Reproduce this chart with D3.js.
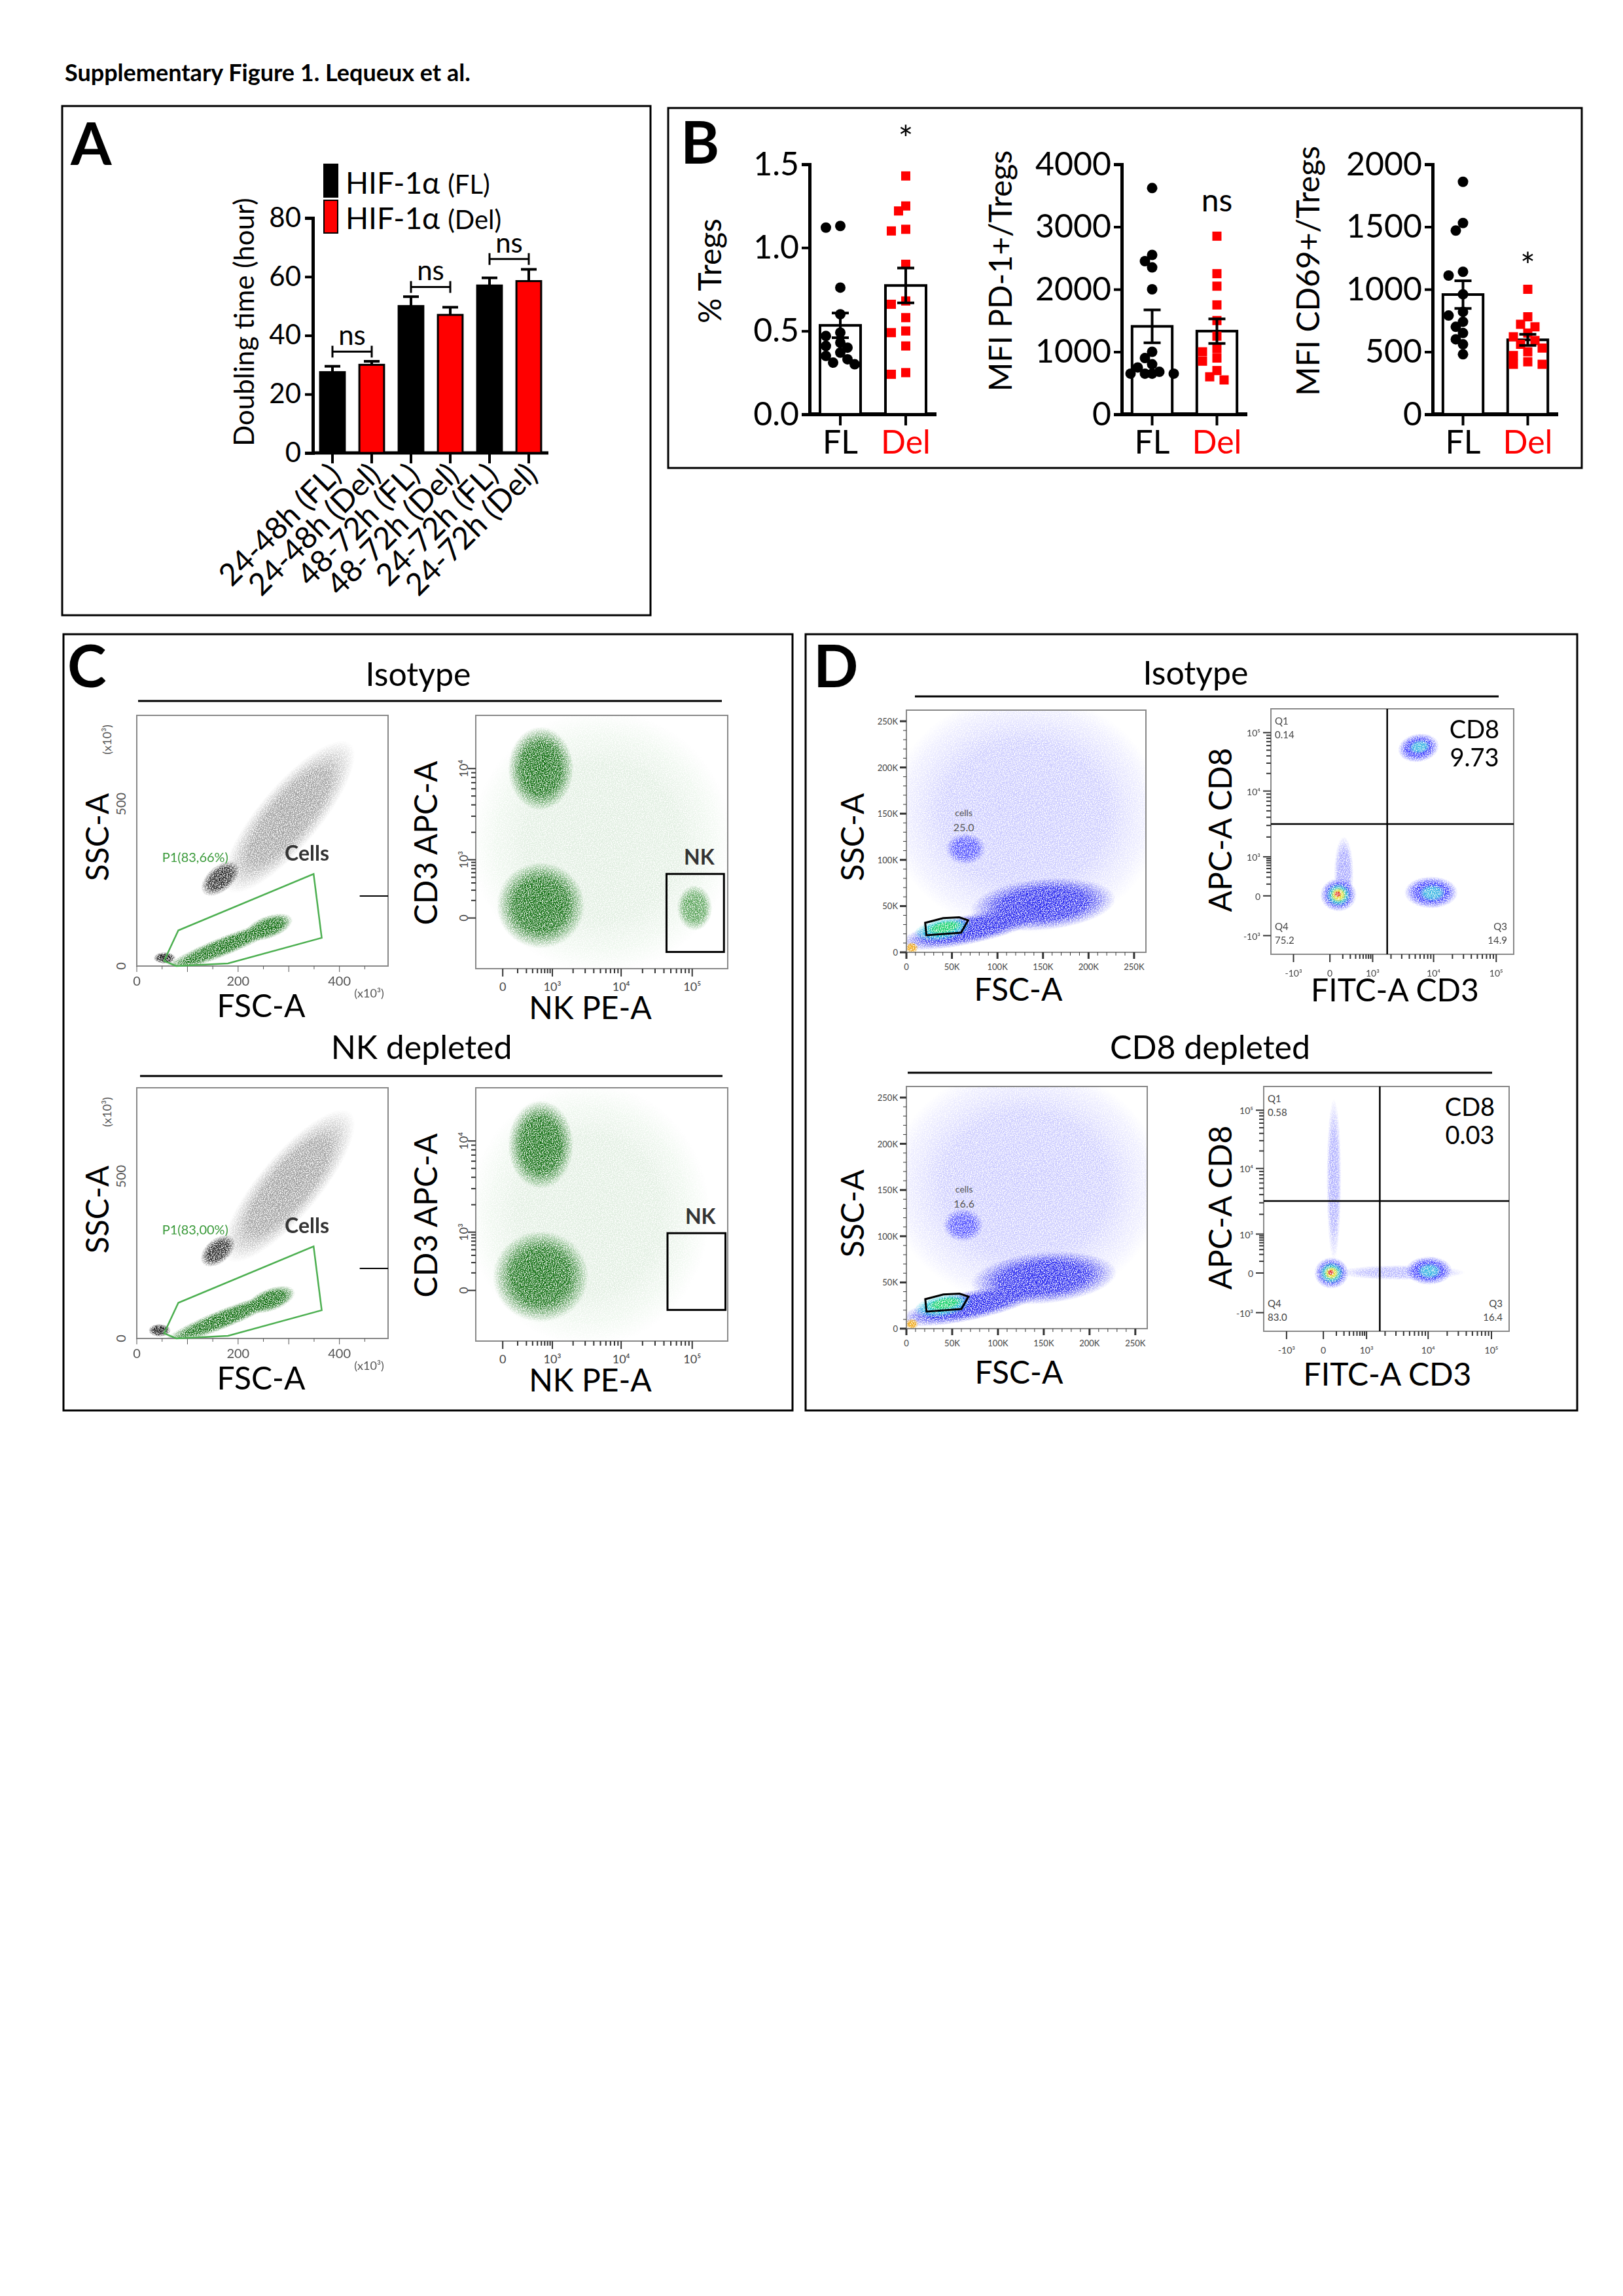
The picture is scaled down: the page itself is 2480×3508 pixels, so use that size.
<!DOCTYPE html>
<html>
<head>
<meta charset="utf-8">
<script src="https://cdn.jsdelivr.net/npm/d3@7"></script>
<style>
  body { margin: 0; background: #fff; }
  text { font-family: Lato, "Open Sans", sans-serif; }
</style>
</head>
<body>
<div id="chart"></div>
<script>
// ---------- data ----------
// Panel A: doubling time
var aCategories = ["24-48h (FL)", "24-48h (Del)", "48-72h (FL)", "48-72h (Del)", "24-72h (FL)", "24-72h (Del)"];
var aMeans = [27.5, 30, 50, 47, 57, 58.5];
var aErrors = [2, 1.2, 3.2, 2.6, 2.6, 4];
var aBrackets = [{ from: 0, to: 1, y: 34.5 }, { from: 2, to: 3, y: 56.5 }, { from: 4, to: 5, y: 66 }];

// Panel B: Treg scatter values
var tregsFL = [1.13, 1.12, 0.76, 0.60, 0.49, 0.47, 0.43, 0.41, 0.40, 0.37, 0.35, 0.33, 0.31, 0.30];
var tregsDel = [1.43, 1.25, 1.22, 1.11, 1.10, 0.90, 0.68, 0.66, 0.58, 0.50, 0.49, 0.41, 0.25, 0.24];
var pd1FL = [3620, 2550, 2450, 2350, 2000, 1000, 900, 800, 750, 680, 650, 650, 650, 650];
var pd1Del = [2850, 2250, 2050, 1750, 1500, 1250, 1050, 1000, 900, 850, 700, 600, 550];
var cd69FL = [1860, 1530, 1470, 1140, 1110, 960, 820, 790, 740, 700, 650, 600, 560, 480];
var cd69Del = [1000, 780, 720, 700, 650, 620, 590, 560, 530, 500, 470, 420, 400, 400];

// Flow plot populations (x, y, rx, ry in plot units; angle in degrees)
var cScatterPops = [
  { x: 300, y: 460, rx: 190, ry: 95, a: -50, c: "#000", o: 0.4 },
  { x: 165, y: 270, rx: 45, ry: 40, a: -40, c: "#000", o: 0.9 },
  { x: 55, y: 25, rx: 22, ry: 18, a: 0, c: "#000", o: 1 },
  { x: 170, y: 60, rx: 130, ry: 30, a: -22, c: "#006400", o: 1 },
  { x: 260, y: 120, rx: 50, ry: 35, a: -20, c: "#006400", o: 1 }
];
var cScatterPopsDep = [
  { x: 300, y: 470, rx: 190, ry: 95, a: -50, c: "#000", o: 0.4 },
  { x: 160, y: 270, rx: 40, ry: 38, a: -40, c: "#000", o: 0.9 },
  { x: 45, y: 25, rx: 22, ry: 20, a: 0, c: "#000", o: 1 },
  { x: 170, y: 60, rx: 130, ry: 30, a: -22, c: "#006400", o: 1 },
  { x: 265, y: 120, rx: 50, ry: 35, a: -20, c: "#006400", o: 1 }
];
var cNkPops = [
  { x: 500, y: 500, rx: 520, ry: 520, a: 0, c: "#2e8b2e", o: 0.15 },
  { x: 258, y: 790, rx: 130, ry: 165, a: 0, c: "#006400", o: 1 },
  { x: 258, y: 250, rx: 175, ry: 170, a: 0, c: "#006400", o: 1 },
  { x: 868, y: 240, rx: 70, ry: 90, a: 0, c: "#2e8b2e", o: 0.85 }
];
var cNkPopsDep = [
  { x: 450, y: 500, rx: 480, ry: 520, a: 0, c: "#2e8b2e", o: 0.15 },
  { x: 258, y: 775, rx: 130, ry: 175, a: 0, c: "#006400", o: 1 },
  { x: 258, y: 255, rx: 190, ry: 180, a: 0, c: "#006400", o: 1 }
];
var dScatterPops = [
  { x: 130000, y: 150000, rx: 150000, ry: 130000, a: 0, c: "#2a2aff", o: 0.25 },
  { x: 65000, y: 112000, rx: 22000, ry: 17000, a: 0, c: "#2a2aff", o: 0.8 },
  { x: 150000, y: 52000, rx: 80000, ry: 28000, a: -5, c: "#1a1aee", o: 1 },
  { x: 70000, y: 25000, rx: 80000, ry: 16000, a: -12, c: "#1a1aee", o: 1 },
  { x: 40000, y: 25000, rx: 32000, ry: 12000, a: -10, c: "#18c8d8", o: 1 },
  { x: 42000, y: 27000, rx: 20000, ry: 7000, a: -10, c: "#10d060", o: 1 },
  { x: 6000, y: 5000, rx: 7000, ry: 6000, a: 0, c: "#f0a000", o: 1 }
];
var dScatterPopsDep = [
  { x: 130000, y: 155000, rx: 150000, ry: 130000, a: 0, c: "#2a2aff", o: 0.25 },
  { x: 62000, y: 112000, rx: 22000, ry: 18000, a: 0, c: "#2a2aff", o: 0.8 },
  { x: 150000, y: 55000, rx: 80000, ry: 28000, a: -5, c: "#1a1aee", o: 1 },
  { x: 70000, y: 25000, rx: 80000, ry: 16000, a: -12, c: "#1a1aee", o: 1 },
  { x: 40000, y: 25000, rx: 32000, ry: 12000, a: -10, c: "#18c8d8", o: 1 },
  { x: 42000, y: 27000, rx: 20000, ry: 7000, a: -10, c: "#10d060", o: 1 },
  { x: 6000, y: 5000, rx: 7000, ry: 6000, a: 0, c: "#f0a000", o: 1 }
];
var dCd8Pops = [
  { x: 300, y: 330, rx: 40, ry: 150, a: 0, c: "#2a2aff", o: 0.45 },
  { x: 278, y: 242, rx: 75, ry: 68, a: 0, c: "#2a2aff", o: 1 },
  { x: 278, y: 242, rx: 52, ry: 48, a: 0, c: "#22d0c0", o: 1 },
  { x: 278, y: 242, rx: 32, ry: 30, a: 0, c: "#f0e020", o: 1 },
  { x: 275, y: 245, rx: 15, ry: 13, a: 0, c: "#e02020", o: 1 },
  { x: 660, y: 252, rx: 110, ry: 65, a: 0, c: "#2a2aff", o: 1 },
  { x: 665, y: 250, rx: 55, ry: 35, a: 0, c: "#30b8e0", o: 1 },
  { x: 608, y: 841, rx: 85, ry: 58, a: -10, c: "#2a2aff", o: 1 },
  { x: 612, y: 845, rx: 45, ry: 28, a: -10, c: "#30b8e0", o: 1 }
];
var dCd8PopsDep = [
  { x: 286, y: 620, rx: 30, ry: 330, a: 0, c: "#2a2aff", o: 0.4 },
  { x: 276, y: 238, rx: 70, ry: 64, a: 0, c: "#2a2aff", o: 1 },
  { x: 276, y: 238, rx: 50, ry: 45, a: 0, c: "#22d0c0", o: 1 },
  { x: 276, y: 238, rx: 30, ry: 27, a: 0, c: "#f0e020", o: 1 },
  { x: 273, y: 240, rx: 14, ry: 12, a: 0, c: "#e02020", o: 1 },
  { x: 560, y: 240, rx: 260, ry: 30, a: 0, c: "#2a2aff", o: 0.35 },
  { x: 673, y: 248, rx: 95, ry: 58, a: 0, c: "#2a2aff", o: 1 },
  { x: 675, y: 246, rx: 50, ry: 32, a: 0, c: "#30b8e0", o: 1 }
];
// Tick positions on logicle axes (display units 0-1000) and their labels
var cNkXTicks = [[107, "0"], [304, "10³"], [577, "10⁴"], [859, "10⁵"]];
var cNkYTicks = [[200, "0"], [430, "10³"], [790, "10⁴"]];
var dXTicks = [[93, "-10³"], [243, "0"], [419, "10³"], [670, "10⁴"], [928, "10⁵"]];
var dYTicks = [[76, "-10³"], [238, "0"], [397, "10³"], [665, "10⁴"], [903, "10⁵"]];
var dLinTicks = [0, 50000, 100000, 150000, 200000, 250000];
var dLinLabels = ["0", "50K", "100K", "150K", "200K", "250K"];

// ---------- svg ----------
var W = 2480, H = 3508;
var svg = d3.select("#chart").append("svg").attr("width", W).attr("height", H);
svg.append("rect").attr("width", W).attr("height", H).attr("fill", "#fff");

var defs = svg.append("defs");
// speckle texture so clouds read as dots
var f = defs.append("filter").attr("id", "speckle").attr("x", "-20%").attr("y", "-20%").attr("width", "140%").attr("height", "140%");
f.append("feTurbulence").attr("type", "fractalNoise").attr("baseFrequency", 0.7).attr("numOctaves", 1).attr("seed", 3).attr("result", "n");
f.append("feColorMatrix").attr("in", "n").attr("type", "matrix")
  .attr("values", "0 0 0 0 0  0 0 0 0 0  0 0 0 0 0  4 0 0 0 -1.3").attr("result", "m");
f.append("feComposite").attr("in", "SourceGraphic").attr("in2", "m").attr("operator", "in");

var gradCount = 0;
function gradFor(color, op) {
  var id = "g" + (gradCount++);
  var g = defs.append("radialGradient").attr("id", id);
  g.append("stop").attr("offset", "0%").attr("stop-color", color).attr("stop-opacity", op);
  g.append("stop").attr("offset", "60%").attr("stop-color", color).attr("stop-opacity", op * 0.9);
  g.append("stop").attr("offset", "100%").attr("stop-color", color).attr("stop-opacity", 0);
  return "url(#" + id + ")";
}

// title
svg.append("text").attr("x", 99).attr("y", 124).style("font-size", "36px").style("font-weight", "bold")
  .text("Supplementary Figure 1. Lequeux et al.");

// panel borders
[[95, 162, 899, 778], [1021, 165, 1396, 550], [97, 969, 1114, 1186], [1231, 969, 1179, 1186]].forEach(function(b) {
  svg.append("rect").attr("x", b[0]).attr("y", b[1]).attr("width", b[2]).attr("height", b[3])
    .attr("fill", "none").attr("stroke", "#000").attr("stroke-width", 3);
});
function panelLetter(t, x, y) {
  svg.append("text").attr("x", x).attr("y", y).style("font-size", "90px").style("font-weight", "bold").text(t);
}
panelLetter("A", 108, 252);
panelLetter("B", 1040, 250);
panelLetter("C", 103, 1050);
panelLetter("D", 1243, 1050);

// ---------- Panel A ----------
var A0 = 692, A80 = 333;
var ax = d3.scaleBand().domain(aCategories).range([478, 838]).paddingInner(0.37).paddingOuter(0.185);
var ay = d3.scaleLinear().domain([0, 80]).range([A0, A80]);
var gA = svg.append("g");
gA.append("g").attr("transform", "translate(478,0)")
  .call(d3.axisLeft(ay).tickValues([0, 20, 40, 60, 80]).tickSize(12).tickPadding(6))
  .call(function(g) {
    g.select(".domain").attr("stroke-width", 5);
    g.selectAll("line").attr("stroke-width", 4);
    g.selectAll("text").style("font-size", "42px").style("font-family", "Lato");
  });
gA.append("line").attr("x1", 476).attr("x2", 838).attr("y1", A0).attr("y2", A0).attr("stroke", "#000").attr("stroke-width", 5);
aCategories.forEach(function(c, i) {
  var cx = ax(c) + ax.bandwidth() / 2;
  var col = i % 2 ? "#ff0000" : "#000";
  gA.append("line").attr("x1", cx).attr("x2", cx).attr("y1", ay(aMeans[i] + aErrors[i])).attr("y2", ay(aMeans[i]))
    .attr("stroke", "#000").attr("stroke-width", 4);
  gA.append("line").attr("x1", cx - 12).attr("x2", cx + 12).attr("y1", ay(aMeans[i] + aErrors[i])).attr("y2", ay(aMeans[i] + aErrors[i]))
    .attr("stroke", "#000").attr("stroke-width", 4);
  gA.append("rect").attr("x", ax(c)).attr("y", ay(aMeans[i])).attr("width", ax.bandwidth()).attr("height", ay(0) - ay(aMeans[i]))
    .attr("fill", col).attr("stroke", "#000").attr("stroke-width", 3);
  gA.append("line").attr("x1", cx).attr("x2", cx).attr("y1", A0).attr("y2", A0 + 16).attr("stroke", "#000").attr("stroke-width", 4);
  gA.append("text").attr("transform", "translate(" + (cx + 16) + "," + (A0 + 36) + ") rotate(-45)")
    .attr("text-anchor", "end").style("font-size", "47px").text(c);
});
aBrackets.forEach(function(b) {
  var x1 = ax(aCategories[b.from]) + ax.bandwidth() / 2, x2 = ax(aCategories[b.to]) + ax.bandwidth() / 2, y = ay(b.y);
  gA.append("path").attr("d", "M" + x1 + "," + (y + 9) + "V" + (y - 9) + "M" + x1 + "," + y + "H" + x2 + "M" + x2 + "," + (y + 9) + "V" + (y - 9))
    .attr("fill", "none").attr("stroke", "#000").attr("stroke-width", 3);
  gA.append("text").attr("x", (x1 + x2) / 2).attr("y", y - 10).attr("text-anchor", "middle").style("font-size", "42px").text("ns");
});
gA.append("text").attr("transform", "translate(388,492) rotate(-90)").attr("text-anchor", "middle").style("font-size", "42px")
  .text("Doubling time (hour)");
[["#000", "HIF-1α", "(FL)", 251, 296], ["#ff0000", "HIF-1α", "(Del)", 306, 350]].forEach(function(l) {
  gA.append("rect").attr("x", 495).attr("y", l[3]).attr("width", 21).attr("height", 50).attr("fill", l[0]).attr("stroke", "#000").attr("stroke-width", 2);
  var t = gA.append("text").attr("x", 528).attr("y", l[4]).style("font-size", "46px");
  t.append("tspan").text(l[1] + " ");
  t.append("tspan").style("font-size", "40px").text(l[2]);
});

// ---------- Panel B ----------
function dotPlot(opt) {
  var y = d3.scaleLinear().domain([0, opt.max]).range([633, 251]);
  var x = d3.scaleBand().domain(["FL", "Del"]).range([opt.x0, opt.x1]).paddingInner(0.38).paddingOuter(0.16);
  var g = svg.append("g");
  g.append("g").attr("transform", "translate(" + opt.x0 + ",0)")
    .call(d3.axisLeft(y).tickValues(opt.ticks).tickFormat(opt.fmt).tickSize(12).tickPadding(4))
    .call(function(a) {
      a.select(".domain").attr("stroke-width", 5);
      a.selectAll("line").attr("stroke-width", 4);
      a.selectAll("text").style("font-size", "50px").style("font-family", "Lato");
    });
  g.append("line").attr("x1", opt.x0 - 2).attr("x2", opt.x1).attr("y1", 633).attr("y2", 633).attr("stroke", "#000").attr("stroke-width", 6);
  [["FL", opt.fl, "#000"], ["Del", opt.del, "#ff0000"]].forEach(function(s) {
    var cx = x(s[0]) + x.bandwidth() / 2;
    var m = d3.mean(s[1]), se = d3.deviation(s[1]) / Math.sqrt(s[1].length);
    g.append("rect").attr("x", x(s[0])).attr("y", y(m)).attr("width", x.bandwidth()).attr("height", 633 - y(m))
      .attr("fill", "#fff").attr("stroke", "#000").attr("stroke-width", 4);
    // simple swarm: shift sideways when overlapping
    var placed = [];
    s[1].forEach(function(v) {
      var py = y(v), offs = [0, -11, 11, -22, 22, -33, 33], px = cx;
      for (var k = 0; k < offs.length; k++) {
        var ok = placed.every(function(p) { return Math.hypot(p[0] - (cx + offs[k]), p[1] - py) > 13; });
        if (ok) { px = cx + offs[k]; break; }
      }
      placed.push([px, py]);
      if (s[0] === "FL") g.append("circle").attr("cx", px).attr("cy", py).attr("r", 8).attr("fill", "#000");
      else g.append("rect").attr("x", px - 7).attr("y", py - 7).attr("width", 14).attr("height", 14).attr("fill", "#ff0000");
    });
    g.append("path").attr("d", "M" + cx + "," + y(m - se) + "V" + y(m + se) + "M" + (cx - 13) + "," + y(m + se) + "H" + (cx + 13) +
      "M" + (cx - 13) + "," + y(m - se) + "H" + (cx + 13)).attr("stroke", "#000").attr("stroke-width", 4);
    g.append("line").attr("x1", cx).attr("x2", cx).attr("y1", 633).attr("y2", 650).attr("stroke", "#000").attr("stroke-width", 4);
    g.append("text").attr("x", cx).attr("y", 693).attr("text-anchor", "middle").style("font-size", "50px").attr("fill", s[2]).text(s[0]);
    if (s[0] === "Del") g.append("text").attr("x", cx).attr("y", y(opt.sigY)).attr("text-anchor", "middle")
      .style("font-size", opt.sig === "*" ? "54px" : "48px").text(opt.sig);
  });
  g.append("text").attr("transform", "translate(" + opt.labX + ",414) rotate(-90)").attr("text-anchor", "middle")
    .style("font-size", "48px").text(opt.label);
}
dotPlot({ x0: 1237, x1: 1431, max: 1.5, ticks: [0, 0.5, 1, 1.5], fmt: d3.format(".1f"), fl: tregsFL, del: tregsDel, sig: "*", sigY: 1.58, label: "% Tregs", labX: 1102 });
dotPlot({ x0: 1714, x1: 1906, max: 4000, ticks: [0, 1000, 2000, 3000, 4000], fmt: d3.format("d"), fl: pd1FL, del: pd1Del, sig: "ns", sigY: 3250, label: "MFI PD-1+/Tregs", labX: 1546 });
dotPlot({ x0: 2189, x1: 2381, max: 2000, ticks: [0, 500, 1000, 1500, 2000], fmt: d3.format("d"), fl: cd69FL, del: cd69Del, sig: "*", sigY: 1090, label: "MFI CD69+/Tregs", labX: 2016 });

// ---------- flow plots ----------
function flowFrame(o) {
  var g = svg.append("g");
  var x = d3.scaleLinear().domain(o.xd).range([o.x, o.x + o.w]);
  var y = d3.scaleLinear().domain(o.yd).range([o.y + o.h, o.y]);
  var cl = "clip" + gradCount++;
  defs.append("clipPath").attr("id", cl).append("rect").attr("x", o.x).attr("y", o.y).attr("width", o.w).attr("height", o.h);
  var cloud = g.append("g").attr("clip-path", "url(#" + cl + ")").append("g").attr("filter", "url(#speckle)");
  o.pops.forEach(function(p) {
    var cx = x(p.x), cy = y(p.y);
    cloud.append("ellipse").attr("cx", cx).attr("cy", cy)
      .attr("rx", Math.abs(x(p.x + p.rx) - cx)).attr("ry", Math.abs(y(p.y + p.ry) - cy))
      .attr("transform", "rotate(" + p.a + "," + cx + "," + cy + ")").attr("fill", gradFor(p.c, p.o));
  });
  g.append("rect").attr("x", o.x).attr("y", o.y).attr("width", o.w).attr("height", o.h)
    .attr("fill", "none").attr("stroke", "#888").attr("stroke-width", 2);
  return { g: g, x: x, y: y };
}
function logTicks(p, ticks, axis, fs) {
  // major ticks with labels plus minor decade ticks
  var g = p.g, s = axis === "x" ? p.x : p.y;
  var r0 = axis === "x" ? p.y.range()[0] : p.x.range()[0];
  ticks.forEach(function(t, i) {
    var v = s(t[0]);
    if (axis === "x") {
      g.append("line").attr("x1", v).attr("x2", v).attr("y1", r0).attr("y2", r0 + 12).attr("stroke", "#333").attr("stroke-width", 2);
      g.append("text").attr("x", v).attr("y", r0 + 34).attr("text-anchor", "middle").style("font-size", fs + "px").attr("fill", "#444").text(t[1]);
    } else {
      g.append("line").attr("y1", v).attr("y2", v).attr("x1", r0).attr("x2", r0 - 12).attr("stroke", "#333").attr("stroke-width", 2);
      g.append("text").attr("x", r0 - 16).attr("y", v + 6).attr("text-anchor", "end").style("font-size", fs + "px").attr("fill", "#444").text(t[1]);
    }
    if (i > 0 && t[1].indexOf("10") === 0) {
      var a = s(ticks[i - 1][0]);
      d3.range(2, 10).forEach(function(k) {
        var m = v + (a - v) * (1 - Math.log10(k));
        if (axis === "x") g.append("line").attr("x1", m).attr("x2", m).attr("y1", r0).attr("y2", r0 + 7).attr("stroke", "#333").attr("stroke-width", 2);
        else g.append("line").attr("y1", m).attr("y2", m).attr("x1", r0).attr("x2", r0 - 7).attr("stroke", "#333").attr("stroke-width", 2);
      });
    }
  });
}
function label(t, x, y, fs, rot, anchor, extra) {
  var e = svg.append("text").attr("transform", "translate(" + x + "," + y + ")" + (rot ? " rotate(" + rot + ")" : ""))
    .attr("text-anchor", anchor || "middle").style("font-size", fs + "px").text(t);
  if (extra) extra(e);
  return e;
}
function header(t, cx, y, x1, x2, ly) {
  label(t, cx, y, 50);
  svg.append("line").attr("x1", x1).attr("x2", x2).attr("y1", ly).attr("y2", ly).attr("stroke", "#000").attr("stroke-width", 3);
}

// ---------- Panel C ----------
header("Isotype", 639, 1048, 211, 1103, 1071);
header("NK depleted", 644, 1618, 214, 1104, 1644);
[[0, cScatterPops, cNkPops, "P1(83,66%)", [[757, 66], [985, 374]]], [569, cScatterPopsDep, cNkPopsDep, "P1(83,00%)", [[761, 123], [991, 426]]]].forEach(function(row) {
  var dy = row[0];
  var p1 = flowFrame({ x: 209, y: 1093 + dy, w: 384, h: 383, xd: [0, 496], yd: [0, 773], pops: row[1] });
  var bottom = 1476 + dy;
  [0, 200, 400].forEach(function(v) {
    p1.g.append("text").attr("x", p1.x(v)).attr("y", bottom + 30).attr("text-anchor", "middle").style("font-size", "20px").attr("fill", "#555").text(v);
  });
  d3.range(0, 500, 50).forEach(function(v) {
    p1.g.append("line").attr("x1", p1.x(v)).attr("x2", p1.x(v)).attr("y1", bottom).attr("y2", bottom + (v % 100 ? 5 : 9)).attr("stroke", "#555");
  });
  [0, 500].forEach(function(v) {
    label(v, 192, p1.y(v), 20, -90, "middle", function(e) { e.attr("fill", "#555"); });
  });
  label("(x10³)", 564, bottom + 48, 18, 0, "middle", function(e) { e.attr("fill", "#555"); });
  label("(x10³)", 170, 1130 + dy, 18, -90, "middle", function(e) { e.attr("fill", "#555"); });
  var gate = [[54, 16], [82, 110], [349, 284], [365, 87], [180, 8], [78, 0]];
  p1.g.append("path").attr("d", d3.line().x(function(d) { return p1.x(d[0]); }).y(function(d) { return p1.y(d[1]); })(gate) + "Z")
    .attr("fill", "none").attr("stroke", "#4caf50").attr("stroke-width", 2.5);
  p1.g.append("text").attr("x", p1.x(50)).attr("y", p1.y(320)).style("font-size", "20px").attr("fill", "#3a9a3a").text(row[3]);
  p1.g.append("text").attr("x", p1.x(292)).attr("y", p1.y(325)).style("font-size", "32px").style("font-weight", "bold").attr("fill", "#333").text("Cells");
  p1.g.append("line").attr("x1", p1.x(440)).attr("x2", p1.x(496)).attr("y1", p1.y(216)).attr("y2", p1.y(216)).attr("stroke", "#000").attr("stroke-width", 2);
  label("FSC-A", 399, 1554 + dy, 48);
  label("SSC-A", 166, 1279 + dy, 48, -90);

  var p2 = flowFrame({ x: 727, y: 1093 + dy, w: 385, h: 387, xd: [0, 1000], yd: [0, 1000], pops: row[2] });
  logTicks(p2, cNkXTicks, "x", 18);
  logTicks(p2, cNkYTicks, "y", 18);
  p2.g.selectAll("text").filter(function() { return +this.getAttribute("x") < 727 && this.getAttribute("text-anchor") === "end"; })
    .each(function() {
      var t = d3.select(this), xx = +t.attr("x") + 4, yy = +t.attr("y") - 6;
      t.attr("x", null).attr("y", null).attr("text-anchor", "middle").attr("transform", "translate(" + xx + "," + yy + ") rotate(-90)");
    });
  var b = row[4];
  p2.g.append("rect").attr("x", p2.x(b[0][0])).attr("y", p2.y(b[1][1])).attr("width", p2.x(b[1][0]) - p2.x(b[0][0]))
    .attr("height", p2.y(b[0][1]) - p2.y(b[1][1])).attr("fill", "none").attr("stroke", "#000").attr("stroke-width", 3);
  p2.g.append("text").attr("x", (p2.x(b[0][0]) + p2.x(b[1][0])) / 2 + 6).attr("y", p2.y(b[1][1]) - 14).attr("text-anchor", "middle")
    .style("font-size", "32px").style("font-weight", "bold").attr("fill", "#333").text("NK");
  label("NK PE-A", 902, 1557 + dy, 48);
  label("CD3 APC-A", 668, 1288 + dy, 48, -90);
});

// ---------- Panel D ----------
header("Isotype", 1827, 1046, 1398, 2290, 1064);
header("CD8 depleted", 1849, 1618, 1387, 2280, 1639);
var dGate = [[22000, 18400], [20600, 31900], [40400, 37000], [58000, 37800], [67800, 34700], [60000, 21200]];
[[{ x: 1385, y: 1085, w: 366, h: 370 }, { x: 1942, y: 1083, w: 371, h: 375 }, dScatterPops, dCd8Pops, "25.0", [479, 531],
  ["0.14", "75.2", "14.9", "9.73"], 1529, 1530],
 [{ x: 1385, y: 1660, w: 368, h: 370 }, { x: 1931, y: 1660, w: 375, h: 374 }, dScatterPopsDep, dCd8PopsDep, "16.6", [473, 532],
  ["0.58", "83.0", "16.4", "0.03"], 2114, 2117]].forEach(function(row) {
  var f1 = row[0];
  var p1 = flowFrame({ x: f1.x, y: f1.y, w: f1.w, h: f1.h, xd: [0, 263000], yd: [0, 262000], pops: row[2] });
  var bottom = f1.y + f1.h;
  d3.range(0, 260000, 10000).forEach(function(v) {
    var big = v % 50000 === 0;
    p1.g.append("line").attr("x1", p1.x(v)).attr("x2", p1.x(v)).attr("y1", bottom).attr("y2", bottom + (big ? 10 : 5)).attr("stroke", "#333").attr("stroke-width", big ? 3 : 1);
    p1.g.append("line").attr("y1", p1.y(v)).attr("y2", p1.y(v)).attr("x1", f1.x).attr("x2", f1.x - (big ? 10 : 5)).attr("stroke", "#333").attr("stroke-width", big ? 3 : 1);
  });
  dLinTicks.forEach(function(v, i) {
    p1.g.append("text").attr("x", p1.x(v)).attr("y", bottom + 27).attr("text-anchor", "middle").style("font-size", "13px").attr("fill", "#444").text(dLinLabels[i]);
    p1.g.append("text").attr("x", f1.x - 13).attr("y", p1.y(v) + 5).attr("text-anchor", "end").style("font-size", "13px").attr("fill", "#444").text(dLinLabels[i]);
  });
  p1.g.append("path").attr("d", d3.line().x(function(d) { return p1.x(d[0]); }).y(function(d) { return p1.y(d[1]); })(dGate) + "Z")
    .attr("fill", "none").attr("stroke", "#000").attr("stroke-width", 3);
  p1.g.append("text").attr("x", p1.x(63000)).attr("y", p1.y(147000)).attr("text-anchor", "middle").style("font-size", "14px").attr("fill", "#555").text("cells");
  p1.g.append("text").attr("x", p1.x(63000)).attr("y", p1.y(131000)).attr("text-anchor", "middle").style("font-size", "16px").attr("fill", "#555").text(row[4]);
  label("FSC-A", f1.x + f1.w / 2 - 12, row[7], 48);
  label("SSC-A", 1320, f1.y + 194, 48, -90);

  var f2 = row[1];
  var p2 = flowFrame({ x: f2.x, y: f2.y, w: f2.w, h: f2.h, xd: [0, 1000], yd: [0, 1000], pops: row[3] });
  logTicks(p2, dXTicks, "x", 14);
  logTicks(p2, dYTicks, "y", 14);
  var q = row[5];
  p2.g.append("line").attr("x1", p2.x(q[0])).attr("x2", p2.x(q[0])).attr("y1", f2.y).attr("y2", f2.y + f2.h).attr("stroke", "#000").attr("stroke-width", 2.5);
  p2.g.append("line").attr("y1", p2.y(q[1])).attr("y2", p2.y(q[1])).attr("x1", f2.x).attr("x2", f2.x + f2.w).attr("stroke", "#000").attr("stroke-width", 2.5);
  var v = row[6];
  function small(t, x, y, a) { p2.g.append("text").attr("x", x).attr("y", y).attr("text-anchor", a).style("font-size", "15px").attr("fill", "#444").text(t); }
  small("Q1", f2.x + 6, f2.y + 24, "start"); small(v[0], f2.x + 6, f2.y + 45, "start");
  small("Q4", f2.x + 6, f2.y + f2.h - 37, "start"); small(v[1], f2.x + 6, f2.y + f2.h - 16, "start");
  small("Q3", f2.x + f2.w - 10, f2.y + f2.h - 37, "end"); small(v[2], f2.x + f2.w - 10, f2.y + f2.h - 16, "end");
  p2.g.append("text").attr("x", f2.x + f2.w - 60).attr("y", f2.y + 45).attr("text-anchor", "middle").style("font-size", "38px").text("CD8");
  p2.g.append("text").attr("x", f2.x + f2.w - 60).attr("y", f2.y + 88).attr("text-anchor", "middle").style("font-size", "38px").text(v[3]);
  label("FITC-A CD3", f2.x + f2.h / 2 + 2, row[8], 48);
  label("APC-A CD8", 1882, f2.y + 185, 48, -90);
});
</script>
</body>
</html>
